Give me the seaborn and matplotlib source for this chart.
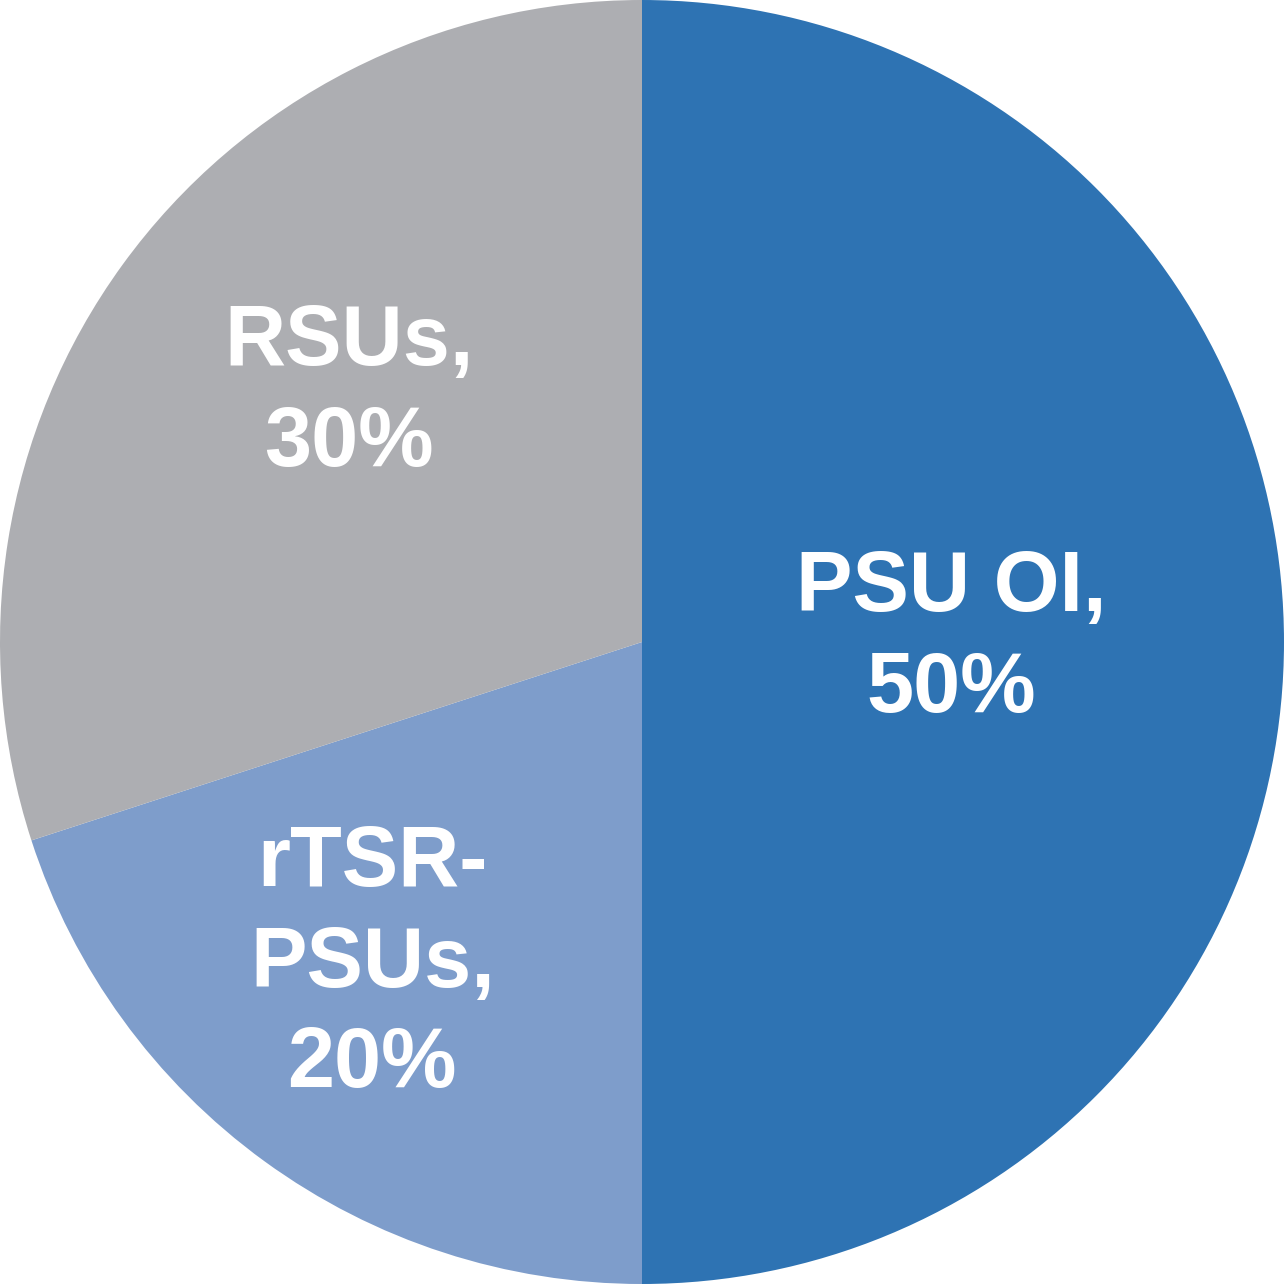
import numpy as np
import matplotlib
matplotlib.use('Agg')
import matplotlib.pyplot as plt
import seaborn as sns

# pay mix
categories = ['PSU OI', 'rTSR-\nPSUs', 'RSUs']
shares = [50, 20, 30]
colors = ['#2E73B3', '#7E9DCB', '#ADAEB2']

sns.set_style('white')
plt.rcParams['font.family'] = ['Liberation Sans', 'DejaVu Sans']

fig = plt.figure(figsize=(12.84, 12.84), dpi=100)
ax = fig.add_axes([0, 0, 1, 1])
wedges, _ = ax.pie(shares, colors=colors, startangle=90, counterclock=False,
                   radius=1.0, wedgeprops={'linewidth': 0})
ax.set_xlim(-1, 1)
ax.set_ylim(-1, 1)
ax.set_aspect('equal')
ax.axis('off')

# label radius / angle nudge per slice (Excel-style placement)
label_r = [0.481, 0.655, 0.598]
label_dang = [0.5, -3.9, -4.3]
for w, cat, s, r, da in zip(wedges, categories, shares, label_r, label_dang):
    ang = np.deg2rad((w.theta1 + w.theta2) / 2 + da)
    ax.text(r * np.cos(ang), r * np.sin(ang), f'{cat},\n{s}%', ha='center', va='center',
            color='white', fontsize=61, fontweight='bold', linespacing=1.33)

plt.savefig('out.png', dpi=100)
